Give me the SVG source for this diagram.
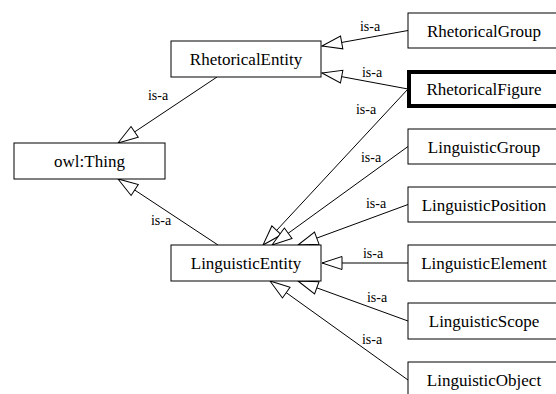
<svg xmlns="http://www.w3.org/2000/svg" width="556" height="394" viewBox="0 0 556 394">
<style>
.box{fill:white;stroke:black;stroke-width:1}
.thick{fill:white;stroke:black;stroke-width:4}
.nt{font-size:17px;text-anchor:middle;fill:black}
.el{font-size:14px;text-anchor:middle;fill:black}
.edge{stroke:black;stroke-width:1;fill:none;marker-end:url(#ah)}
</style>
<defs>
<marker id="ah" markerUnits="userSpaceOnUse" markerWidth="24" markerHeight="18" viewBox="-1 -1 24 18" refX="20" refY="7" orient="auto" overflow="visible">
<path d="M20,7 L0,0.5 L0,13.5 Z" fill="white" stroke="black" stroke-width="1"/>
</marker>
</defs>
<rect width="556" height="394" fill="white"/>
<g id="connectors" font-family="Liberation Serif, Times New Roman, serif">
<line class="edge" x1="408" y1="30.5" x2="322" y2="46"/>
<line class="edge" x1="408" y1="89" x2="322" y2="73"/>
<line class="edge" x1="408" y1="89" x2="263" y2="245"/>
<line class="edge" x1="408" y1="146.5" x2="272" y2="245"/>
<line class="edge" x1="408" y1="204.5" x2="298" y2="245"/>
<line class="edge" x1="408" y1="263" x2="322" y2="263"/>
<line class="edge" x1="408" y1="321" x2="298" y2="281"/>
<line class="edge" x1="408" y1="380" x2="270" y2="281"/>
<line class="edge" x1="217" y1="77" x2="118" y2="143"/>
<line class="edge" x1="218" y1="245" x2="118" y2="179"/>
<text class="el" x="370" y="31">is-a</text>
<text class="el" x="372" y="77">is-a</text>
<text class="el" x="366" y="114">is-a</text>
<text class="el" x="371" y="162">is-a</text>
<text class="el" x="376" y="208">is-a</text>
<text class="el" x="373" y="258">is-a</text>
<text class="el" x="377" y="302">is-a</text>
<text class="el" x="372" y="344">is-a</text>
<text class="el" x="158" y="100">is-a</text>
<text class="el" x="161" y="225">is-a</text>
</g>
<g font-family="Liberation Serif, Times New Roman, serif">
<g id="owlThing"><rect class="box" x="14" y="143" width="151" height="36"/><text class="nt" x="89.5" y="167">owl:Thing</text></g>
<g id="RhetoricalEntity"><rect class="box" x="171" y="41" width="150" height="36"/><text class="nt" x="246" y="65">RhetoricalEntity</text></g>
<g id="LinguisticEntity"><rect class="box" x="171" y="245" width="150" height="36"/><text class="nt" x="246" y="269">LinguisticEntity</text></g>
<g id="RhetoricalGroup"><rect class="box" x="408" y="13" width="160" height="35"/><text class="nt" x="484" y="36.5">RhetoricalGroup</text></g>
<g id="RhetoricalFigure"><rect class="thick" x="409" y="72" width="160" height="34"/><text class="nt" x="484" y="95">RhetoricalFigure</text></g>
<g id="LinguisticGroup"><rect class="box" x="408" y="129" width="160" height="35"/><text class="nt" x="484" y="152.5">LinguisticGroup</text></g>
<g id="LinguisticPosition"><rect class="box" x="408" y="187" width="160" height="35"/><text class="nt" x="484" y="210.5">LinguisticPosition</text></g>
<g id="LinguisticElement"><rect class="box" x="408" y="245" width="160" height="36"/><text class="nt" x="484" y="269">LinguisticElement</text></g>
<g id="LinguisticScope"><rect class="box" x="408" y="303" width="160" height="36"/><text class="nt" x="484" y="327">LinguisticScope</text></g>
<g id="LinguisticObject"><rect class="box" x="408" y="362" width="160" height="36"/><text class="nt" x="484" y="386">LinguisticObject</text></g>
</g>
</svg>
